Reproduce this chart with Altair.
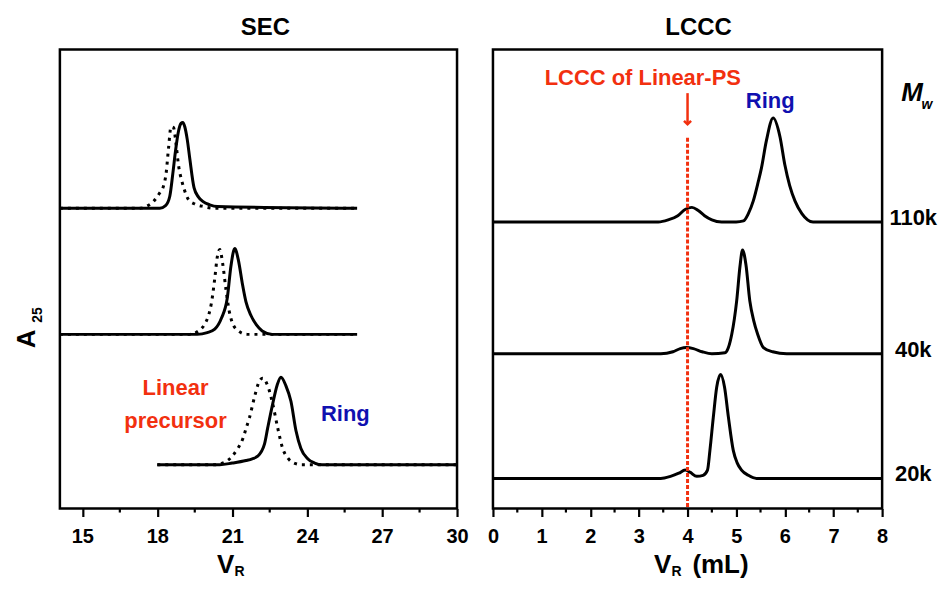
import altair as alt
import pandas as pd

FONT = "Liberation Sans"
RED = "#F2300F"
BLUE = "#1010B0"

# ---------------- SEC panel: elution volume V_R, absorbance (normalised) ----------------
sec_top_ring_v = [14.1, 18.1, 18.33, 18.5, 18.62, 18.73, 18.85, 18.95, 19.02, 19.1, 19.2, 19.3, 19.47, 19.65, 19.82, 20.1, 20.4, 26.0]
sec_top_ring_i = [0, 0, 0.03, 0.14, 0.4, 0.67, 0.9, 0.99, 1.0, 0.95, 0.8, 0.58, 0.24, 0.13, 0.08, 0.04, 0.02, 0]
sec_top_lin_v = [14.1, 17.3, 17.55, 17.85, 18.1, 18.25, 18.35, 18.45, 18.55, 18.65, 18.75, 18.85, 18.98, 19.1, 19.25, 19.5, 19.85, 20.3, 26.0]
sec_top_lin_i = [0, 0, 0.02, 0.08, 0.18, 0.26, 0.4, 0.7, 0.95, 0.94, 0.75, 0.5, 0.32, 0.2, 0.1, 0.05, 0.02, 0, 0]

sec_mid_ring_v = [14.1, 19.6, 20.0, 20.3, 20.57, 20.8, 20.95, 21.1, 21.25, 21.4, 21.55, 21.75, 21.97, 22.2, 22.6, 26.0]
sec_mid_ring_i = [0, 0, 0.02, 0.06, 0.19, 0.42, 0.8, 1.0, 0.86, 0.6, 0.38, 0.22, 0.11, 0.04, 0, 0]
sec_mid_lin_v = [14.1, 19.3, 19.6, 19.9, 20.05, 20.17, 20.3, 20.4, 20.5, 20.62, 20.75, 20.88, 21.0, 21.2, 21.6, 26.0]
sec_mid_lin_i = [0, 0, 0.03, 0.12, 0.22, 0.37, 0.65, 0.9, 0.99, 0.82, 0.52, 0.27, 0.14, 0.05, 0, 0]

sec_low_ring_v = [18.0, 20.5, 21.0, 21.55, 21.8, 22.02, 22.29, 22.42, 22.62, 22.8, 22.95, 23.15, 23.35, 23.55, 23.75, 24.02, 24.3, 24.6, 30.0]
sec_low_ring_i = [0, 0, 0.02, 0.05, 0.07, 0.1, 0.24, 0.43, 0.71, 0.93, 1.02, 0.92, 0.74, 0.4, 0.19, 0.07, 0.02, 0, 0]
sec_low_lin_v = [18.0, 20.3, 20.7, 21.0, 21.22, 21.42, 21.55, 21.69, 21.9, 22.05, 22.22, 22.42, 22.62, 22.82, 23.02, 23.22, 23.48, 23.8, 30.0]
sec_low_lin_i = [0, 0, 0.03, 0.1, 0.19, 0.30, 0.42, 0.55, 0.8, 0.95, 1.01, 0.92, 0.71, 0.43, 0.19, 0.08, 0.02, 0, 0]

sec_offsets = [3.50, 2.03, 0.51]
sec_major = [15, 18, 21, 24, 27, 30]
sec_minor = [16.5, 19.5, 22.5, 25.5, 28.5]

# ---------------- LCCC panel ----------------
lccc_110k_v = [0, 3.4, 3.6, 3.8, 3.95, 4.09, 4.22, 4.35, 4.5, 4.7, 5.0, 5.15, 5.25, 5.35, 5.45, 5.52, 5.62, 5.76, 5.9, 6.0, 6.1, 6.21, 6.35, 6.58, 8.0]
lccc_110k_i = [0, 0, 0.02, 0.06, 0.12, 0.14, 0.11, 0.06, 0.02, 0, 0, 0.01, 0.08, 0.2, 0.38, 0.52, 0.78, 1.0, 0.82, 0.55, 0.35, 0.2, 0.08, 0, 0]
lccc_40k_v = [0, 3.45, 3.7, 3.85, 3.98, 4.12, 4.3, 4.5, 4.77, 4.84, 4.91, 5.01, 5.08, 5.13, 5.2, 5.28, 5.36, 5.44, 5.56, 5.75, 6.04, 8.0]
lccc_40k_i = [0, 0, 0.02, 0.05, 0.06, 0.05, 0.02, 0, 0.01, 0.06, 0.19, 0.51, 0.85, 1.0, 0.86, 0.51, 0.32, 0.19, 0.06, 0.02, 0, 0]
lccc_20k_v = [0, 3.45, 3.65, 3.82, 3.95, 4.05, 4.19, 4.32, 4.41, 4.46, 4.53, 4.6, 4.68, 4.76, 4.84, 4.94, 5.02, 5.11, 5.25, 5.42, 8.0]
lccc_20k_i = [0, 0, 0.02, 0.05, 0.08, 0.06, 0.02, 0.03, 0.08, 0.27, 0.59, 0.88, 1.0, 0.88, 0.59, 0.27, 0.15, 0.08, 0.03, 0, 0]

lccc_labels = ["110k", "40k", "20k"]
lccc_offsets = [2.76, 1.49, 0.29]
lccc_major = [0, 1, 2, 3, 4, 5, 6, 7, 8]
lccc_minor = [0.5, 1.5, 2.5, 3.5, 4.5, 5.5, 6.5, 7.5]
lccc_linear_ps = 4.0


def trace_rows(v, i, off, name, kind):
    return [{"V": a, "y": off + b, "trace": name, "kind": kind} for a, b in zip(v, i)]


sec_rows = []
sec_rows += trace_rows(sec_top_ring_v, sec_top_ring_i, sec_offsets[0], "top", "ring")
sec_rows += trace_rows(sec_top_lin_v, sec_top_lin_i, sec_offsets[0], "top", "linear")
sec_rows += trace_rows(sec_mid_ring_v, sec_mid_ring_i, sec_offsets[1], "mid", "ring")
sec_rows += trace_rows(sec_mid_lin_v, sec_mid_lin_i, sec_offsets[1], "mid", "linear")
sec_rows += trace_rows(sec_low_ring_v, sec_low_ring_i, sec_offsets[2], "low", "ring")
sec_rows += trace_rows(sec_low_lin_v, sec_low_lin_i, sec_offsets[2], "low", "linear")
sec_df = pd.DataFrame(sec_rows)

lccc_rows = []
lccc_rows += trace_rows(lccc_110k_v, lccc_110k_i, lccc_offsets[0], "110k", "ring")
lccc_rows += trace_rows(lccc_40k_v, lccc_40k_i, lccc_offsets[1], "40k", "ring")
lccc_rows += trace_rows(lccc_20k_v, lccc_20k_i, lccc_offsets[2], "20k", "ring")
lccc_df = pd.DataFrame(lccc_rows)

W_L, W_R, H = 398, 390, 460

axis_common = dict(title=None, domain=False, grid=False, ticks=True, tickSize=8, tickWidth=2.2,
                   tickColor="black", labelFont=FONT, labelFontWeight="bold", labelFontSize=20,
                   labelColor="black", labelPadding=10, labelFlush=False, labelOverlap=False)

sec_x = alt.X("V:Q", scale=alt.Scale(domain=[14.1, 30], nice=False, zero=False),
              axis=alt.Axis(values=sec_major, **axis_common))
sec_y = alt.Y("y:Q", scale=alt.Scale(domain=[0, 5.35], nice=False, zero=False), axis=None)

lccc_x = alt.X("V:Q", scale=alt.Scale(domain=[0, 8], nice=False, zero=False),
               axis=alt.Axis(values=lccc_major, **axis_common))
lccc_y = alt.Y("y:Q", scale=alt.Scale(domain=[0, 4.42], nice=False, zero=False), axis=None)
lccc_y2 = alt.Y2("y2:Q")

one = pd.DataFrame({"a": [0]})


def label(txt, x, y, size, style="normal", angle=0, baseline="middle"):
    return alt.Chart(one).mark_text(text=txt, font=FONT, fontSize=size, fontWeight="bold",
                                    fontStyle=style, color="black", align="center",
                                    baseline=baseline, angle=angle).encode(
        x=alt.value(x), y=alt.value(y))


# ---------- left panel ----------
sec_base = alt.Chart(sec_df)
sec_ring = sec_base.transform_filter(alt.datum.kind == "ring").mark_line(
    color="black", strokeWidth=3, interpolate="monotone").encode(x=sec_x, y=sec_y, detail="trace:N")
sec_lin = sec_base.transform_filter(alt.datum.kind == "linear").mark_line(
    color="black", strokeWidth=3, strokeDash=[3, 5], interpolate="monotone").encode(
    x=sec_x, y=sec_y, detail="trace:N")
sec_minor_ticks = alt.Chart(pd.DataFrame({"V": sec_minor})).mark_rule(
    color="black", strokeWidth=2.2).encode(x=sec_x, y=alt.value(H), y2=alt.value(H + 4))

sec_ann = alt.Chart(pd.DataFrame({
    "V": [18.73, 18.73, 25.53],
    "y": [1.40, 1.02, 1.10],
    "t": ["Linear", "precursor", "Ring"],
    "c": [RED, RED, BLUE],
})).mark_text(font=FONT, fontSize=22, fontWeight="bold", baseline="middle").encode(
    x=sec_x, y=sec_y, text="t:N", color=alt.Color("c:N", scale=None))

left = alt.layer(
    sec_lin, sec_ring, sec_minor_ticks, sec_ann,
    label("V", 166, 525, 26, baseline="alphabetic"),
    label("R", 180, 528, 14, baseline="alphabetic"),
    label("A", -33, 290, 26, angle=270),
    label("25", -22, 266, 14, angle=270),
).properties(width=W_L, height=H,
             title=alt.TitleParams("SEC", font=FONT, fontSize=24, fontWeight="bold", dx=7, offset=10))

# ---------- right panel ----------
lccc_lines = alt.Chart(lccc_df).mark_line(color="black", strokeWidth=3, interpolate="monotone").encode(
    x=lccc_x, y=lccc_y, detail="trace:N")
lccc_minor_ticks = alt.Chart(pd.DataFrame({"V": lccc_minor})).mark_rule(
    color="black", strokeWidth=2.2).encode(x=lccc_x, y=alt.value(H), y2=alt.value(H + 4))

dash_df = pd.DataFrame({"V": [lccc_linear_ps], "y": [3.57], "y2": [0.0]})
arrow_df = pd.DataFrame({"V": [lccc_linear_ps], "y": [4.0], "y2": [3.71]})
head_df = pd.DataFrame({"V": [lccc_linear_ps], "y": [3.70]})

lccc_dash = alt.Chart(dash_df).mark_rule(color=RED, strokeWidth=3, strokeDash=[4, 2]).encode(
    x=lccc_x, y=lccc_y, y2=lccc_y2)
lccc_arrow = alt.Chart(arrow_df).mark_rule(color=RED, strokeWidth=2.5).encode(
    x=lccc_x, y=lccc_y, y2=lccc_y2)
lccc_head = alt.Chart(head_df).mark_point(shape="M-1,-1L0,0L1,-1", filled=False, color=RED,
                                          strokeWidth=2.5, size=50, opacity=1).encode(
    x=lccc_x, y=lccc_y)

lccc_ann = alt.Chart(pd.DataFrame({
    "V": [3.08, 5.70],
    "y": [4.15, 3.92],
    "t": ["LCCC of Linear-PS", "Ring"],
    "c": [RED, BLUE],
})).mark_text(font=FONT, fontSize=22, fontWeight="bold", baseline="middle").encode(
    x=lccc_x, y=lccc_y, text="t:N", color=alt.Color("c:N", scale=None))

lccc_mw = alt.Chart(pd.DataFrame({"V": [8.64] * 3, "y": lccc_offsets, "t": lccc_labels})).mark_text(
    font=FONT, fontSize=22, fontWeight="bold", baseline="bottom", dy=8, color="black").encode(
    x=lccc_x, y=lccc_y, text="t:N")

right = alt.layer(
    lccc_lines, lccc_minor_ticks, lccc_dash, lccc_arrow, lccc_head, lccc_ann, lccc_mw,
    label("V", 170, 525, 26, baseline="alphabetic"),
    label("R", 184, 528, 14, baseline="alphabetic"),
    label("(mL)", 228, 525, 26, baseline="alphabetic"),
    label("M", 420, 44, 26, style="italic"),
    label("w", 435, 56, 14, style="italic"),
).properties(width=W_R, height=H,
             title=alt.TitleParams("LCCC", font=FONT, fontSize=24, fontWeight="bold", dx=11, offset=10))

chart = alt.hconcat(left, right, spacing=15).properties(
    padding={"left": 4, "top": 5, "right": 0, "bottom": -1}
).configure(background="white").configure_view(stroke="black", strokeWidth=2.5)

chart.save("out.html", embed_options={"renderer": "svg", "actions": False})
